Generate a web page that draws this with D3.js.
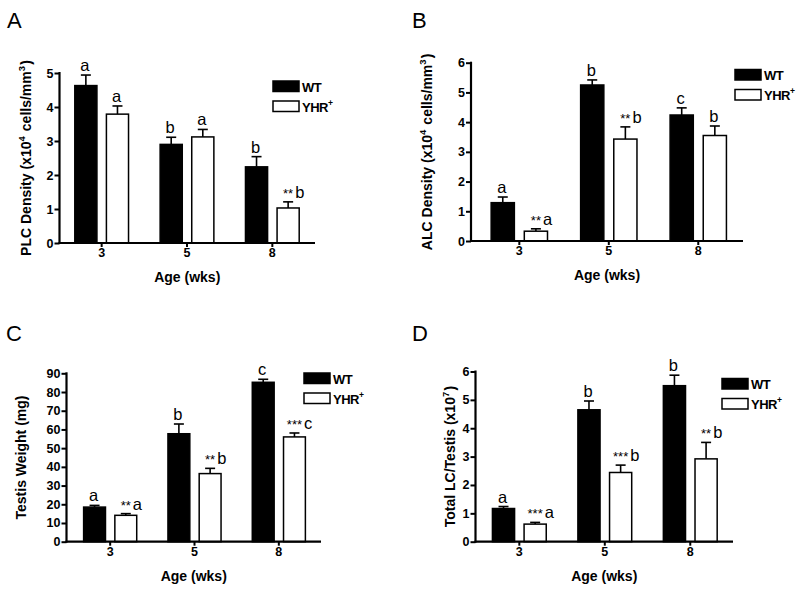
<!DOCTYPE html>
<html>
<head>
<meta charset="utf-8">
<script src="https://cdn.jsdelivr.net/npm/d3@7"></script>
<style>
  html, body { margin: 0; padding: 0; background: #fff; }
  svg { display: block; font-family: "Liberation Sans", Arial, sans-serif; }
</style>
</head>
<body>
<svg id="chart" width="800" height="593"></svg>
<script>
// ---- data ----
const ages = ["3", "5", "8"];
const groups = ["WT", "YHR"];

const plcWT = [4.63, 2.90, 2.24];
const plcWTErr = [0.31, 0.21, 0.30];
const plcYHR = [3.79, 3.12, 1.03];
const plcYHRErr = [0.24, 0.22, 0.18];
const plcLetWT = ["a", "b", "b"];
const plcLetYHR = ["a", "a", "b"];
const plcStars = ["", "", "**"];
const plcTicks = [0, 1, 2, 3, 4, 5];

const alcWT = [1.29, 5.25, 4.24];
const alcWTErr = [0.19, 0.17, 0.24];
const alcYHR = [0.33, 3.43, 3.55];
const alcYHRErr = [0.08, 0.41, 0.32];
const alcLetWT = ["a", "b", "c"];
const alcLetYHR = ["a", "b", "b"];
const alcStars = ["**", "**", ""];
const alcTicks = [0, 1, 2, 3, 4, 5, 6];

const twWT = [18.5, 57.7, 85.2];
const twWTErr = [0.9, 5.2, 1.6];
const twYHR = [14.1, 36.4, 56.0];
const twYHRErr = [0.9, 2.8, 2.1];
const twLetWT = ["a", "b", "c"];
const twLetYHR = ["a", "b", "c"];
const twStars = ["**", "**", "***"];
const twTicks = [0, 10, 20, 30, 40, 50, 60, 70, 80, 90];

const lcWT = [1.17, 4.65, 5.50];
const lcWTErr = [0.07, 0.31, 0.37];
const lcYHR = [0.62, 2.44, 2.92];
const lcYHRErr = [0.06, 0.26, 0.58];
const lcLetWT = ["a", "b", "b"];
const lcLetYHR = ["a", "b", "b"];
const lcStars = ["***", "***", "**"];
const lcTicks = [0, 1, 2, 3, 4, 5, 6];

// ---- drawing ----
const svg = d3.select("#chart");
const FONT = "Liberation Sans, Arial, sans-serif";

function drawPanel(p) {
  const g = svg.append("g");
  const y = d3.scaleLinear().domain([0, p.ymax]).range([p.y0, p.yTop]);
  const x0 = d3.scaleBand().domain(ages).range([p.bandL, p.bandR]);
  const x1 = d3.scaleBand().domain(groups).range([0, x0.bandwidth()])
    .paddingInner(0.3).paddingOuter(0.5);

  // panel letter
  g.append("text").attr("x", p.letX).attr("y", p.letY)
    .attr("font-size", 22).text(p.letter);

  const rows = ages.map((a, i) => [
    { age: a, grp: "WT", v: p.wt[i], e: p.wtErr[i], lab: p.letWT[i], stars: "" },
    { age: a, grp: "YHR", v: p.yhr[i], e: p.yhrErr[i], lab: p.letYHR[i], stars: p.stars[i] }
  ]).flat();

  const bx = d => x0(d.age) + x1(d.grp);
  const bw = x1.bandwidth();

  // error bars (upper only)
  const eb = g.append("g").attr("stroke", "#000").attr("stroke-width", 1.6);
  rows.forEach(d => {
    const cx = bx(d) + bw / 2;
    eb.append("line").attr("x1", cx).attr("x2", cx).attr("y1", y(d.v)).attr("y2", y(d.v + d.e));
    eb.append("line").attr("x1", cx - 5).attr("x2", cx + 5).attr("y1", y(d.v + d.e)).attr("y2", y(d.v + d.e));
  });

  // bars
  g.append("g").selectAll("rect").data(rows).join("rect")
    .attr("x", d => bx(d)).attr("width", bw)
    .attr("y", d => y(d.v)).attr("height", d => p.y0 - y(d.v))
    .attr("fill", d => d.grp === "WT" ? "#000" : "#fff")
    .attr("stroke", "#000").attr("stroke-width", 1.5);

  // annotations
  rows.forEach(d => {
    const cx = bx(d) + bw / 2;
    const ty = y(d.v + d.e) - 4;
    if (d.stars) {
      const st = g.append("text").attr("x", cx).attr("y", ty)
        .attr("text-anchor", "middle").attr("font-size", 13).text(d.stars);
      const w = st.node().getComputedTextLength();
      g.append("text").attr("x", cx + w / 2 + 2).attr("y", ty)
        .attr("font-size", 16.5).text(d.lab);
    } else {
      g.append("text").attr("x", cx - 1).attr("y", ty)
        .attr("text-anchor", "middle").attr("font-size", 16.5).text(d.lab);
    }
  });

  // y axis
  const ya = g.append("g").attr("transform", `translate(${p.axisX},0)`)
    .call(d3.axisLeft(y).tickValues(p.ticks).tickSize(5).tickPadding(1).tickFormat(d3.format("d")));
  ya.select(".domain").remove();
  ya.selectAll(".tick line").attr("stroke-width", 2);
  ya.selectAll(".tick text").attr("font-size", 12.5).attr("font-weight", "bold")
    .attr("font-family", FONT).attr("fill", "#000");
  g.append("line").attr("x1", p.axisX).attr("x2", p.axisX).attr("y1", p.yTop - 1).attr("y2", p.y0 + 1)
    .attr("stroke", "#000").attr("stroke-width", 2.2);

  // x axis
  const xa = g.append("g").attr("transform", `translate(0,${p.y0})`)
    .call(d3.axisBottom(x0).tickSize(4).tickPadding(1));
  xa.select(".domain").remove();
  xa.selectAll(".tick line").attr("stroke-width", 2);
  xa.selectAll(".tick text").attr("font-size", 12.5).attr("font-weight", "bold")
    .attr("font-family", FONT).attr("fill", "#000");
  g.append("line").attr("x1", p.axisX - 1).attr("x2", p.bandR).attr("y1", p.y0).attr("y2", p.y0)
    .attr("stroke", "#000").attr("stroke-width", 2.2);

  g.append("text").attr("x", (p.axisX + p.bandR) / 2).attr("y", p.y0 + 39)
    .attr("text-anchor", "middle").attr("font-size", 14).attr("font-weight", "bold").text("Age (wks)");

  // y label
  const yl = g.append("text")
    .attr("transform", `translate(${p.ylX},${(p.y0 + p.yTop) / 2}) rotate(-90)`)
    .attr("text-anchor", "middle").attr("font-size", 14).attr("font-weight", "bold");
  p.ylabel.forEach(part => {
    if (part.sup) {
      yl.append("tspan").attr("font-size", 9.5).attr("dy", -6).text(part.t);
      yl.append("tspan").attr("dy", 6).text("\u200A");
    } else {
      yl.append("tspan").text(part.t);
    }
  });

  // legend
  const lg = g.append("g");
  [["WT", "#000", "WT"], ["YHR", "#fff", "YHR"]].forEach((it, i) => {
    const yy = p.legY + i * 20;
    lg.append("rect").attr("x", p.legX).attr("y", yy).attr("width", 26).attr("height", 10.5)
      .attr("fill", it[1]).attr("stroke", "#000").attr("stroke-width", 1.5);
    const t = lg.append("text").attr("x", p.legX + 29).attr("y", yy + 10.5)
      .attr("font-size", 13).attr("font-weight", "bold").attr("letter-spacing", -0.5).text(it[2]);
    if (i === 1) t.append("tspan").attr("font-size", 8.5).attr("dy", -6).text("+");
  });
}

drawPanel({
  letter: "A", letX: 7, letY: 28,
  ymax: 5, y0: 243, yTop: 73, axisX: 59.5, bandL: 59, bandR: 315,
  ticks: plcTicks, wt: plcWT, wtErr: plcWTErr, yhr: plcYHR, yhrErr: plcYHRErr,
  letWT: plcLetWT, letYHR: plcLetYHR, stars: plcStars,
  ylX: 31, ylabel: [{ t: "PLC Density (x10" }, { t: "4", sup: true }, { t: " cells/mm" }, { t: "3", sup: true }, { t: ")" }],
  legX: 273, legY: 81
});
drawPanel({
  letter: "B", letX: 412, letY: 28,
  ymax: 6, y0: 241, yTop: 62.7, axisX: 471, bandL: 474.6, bandR: 743,
  ticks: alcTicks, wt: alcWT, wtErr: alcWTErr, yhr: alcYHR, yhrErr: alcYHRErr,
  letWT: alcLetWT, letYHR: alcLetYHR, stars: alcStars,
  ylX: 432, ylabel: [{ t: "ALC Density (x10" }, { t: "4", sup: true }, { t: " cells/mm" }, { t: "3", sup: true }, { t: ")" }],
  legX: 735, legY: 69.5
});
drawPanel({
  letter: "C", letX: 6, letY: 341,
  ymax: 90, y0: 541.7, yTop: 373.3, axisX: 66.5, bandL: 68, bandR: 321,
  ticks: twTicks, wt: twWT, wtErr: twWTErr, yhr: twYHR, yhrErr: twYHRErr,
  letWT: twLetWT, letYHR: twLetYHR, stars: twStars,
  ylX: 25.5, ylabel: [{ t: "Testis Weight (mg)" }],
  legX: 304, legY: 373
});
drawPanel({
  letter: "D", letX: 412, letY: 341,
  ymax: 6, y0: 541.7, yTop: 371.5, axisX: 475.5, bandL: 476.6, bandR: 733,
  ticks: lcTicks, wt: lcWT, wtErr: lcWTErr, yhr: lcYHR, yhrErr: lcYHRErr,
  letWT: lcLetWT, letYHR: lcLetYHR, stars: lcStars,
  ylX: 455, ylabel: [{ t: "Total LC/Testis (x10" }, { t: "7", sup: true }, { t: ")" }],
  legX: 722, legY: 378.5
});
</script>
</body>
</html>
